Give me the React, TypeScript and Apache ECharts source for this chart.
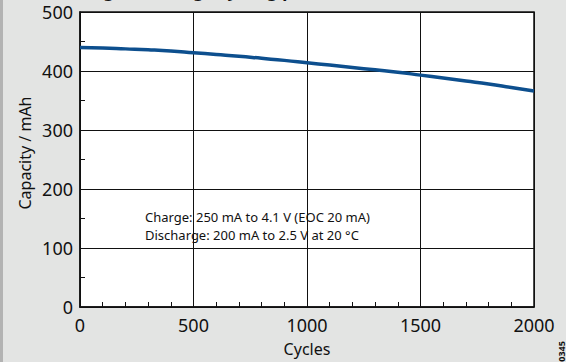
import React, { useEffect, useRef } from "react";
import * as echarts from "echarts";

const cycles = [0, 100, 200, 300, 400, 500, 600, 700, 800, 900, 1000, 1100, 1200, 1300, 1400, 1500, 1600, 1700, 1800, 1900, 2000];
const capacity = [440, 439, 437.5, 436, 434, 431, 428, 425, 421.5, 418, 414, 410, 406, 402, 398, 393, 388, 383, 378, 372, 366];
const xTicks = [0, 500, 1000, 1500, 2000];
const yTicks = [0, 100, 200, 300, 400, 500];
const annotationLines = ["Charge: 250 mA to 4.1 V (EOC 20 mA)", "Discharge: 200 mA to 2.5 V at 20 °C"];
const titleText = "Charge/discharge cycling performance";
const yName = "Capacity / mAh";
const xName = "Cycles";

const FONT = "'Noto Sans', 'Open Sans', sans-serif";

export default function App() {
  const ref = useRef<HTMLDivElement>(null);
  useEffect(() => {
    document.body.style.margin = "0";
    const chart = echarts.init(ref.current!, null, { renderer: "svg" });
    chart.setOption({
      animation: false,
      backgroundColor: "#e3e4e3",
      textStyle: { fontFamily: FONT },
      grid: {
        left: 80,
        right: 32,
        top: 12,
        bottom: 49,
        show: true,
        backgroundColor: "#ffffff",
        borderColor: "#111",
        borderWidth: 1.5,
      },
      xAxis: {
        type: "value",
        min: xTicks[0],
        max: xTicks[xTicks.length - 1],
        interval: 500,
        name: xName,
        nameLocation: "middle",
        nameGap: 34,
        nameTextStyle: { fontSize: 16, color: "#111", fontFamily: FONT },
        axisLine: { show: true, lineStyle: { color: "#111", width: 1.5 } },
        axisTick: { show: true, inside: true, length: 5, lineStyle: { color: "#111" } },
        minorTick: { show: true, splitNumber: 5, length: 5, lineStyle: { color: "#111", width: 1 } },
        splitLine: { show: true, lineStyle: { color: "#111", width: 1 } },
        axisLabel: { fontSize: 18, color: "#111", margin: 9, fontFamily: FONT, formatter: (v: number) => String(v) },
      },
      yAxis: {
        type: "value",
        min: yTicks[0],
        max: yTicks[yTicks.length - 1],
        interval: 100,
        axisLine: { show: true, lineStyle: { color: "#111", width: 1.5 } },
        axisTick: { show: true, inside: true, length: 5, lineStyle: { color: "#111" } },
        minorTick: { show: true, splitNumber: 2, length: 5, lineStyle: { color: "#111", width: 1 } },
        splitLine: { show: true, lineStyle: { color: "#111", width: 1 } },
        axisLabel: { fontSize: 18, color: "#111", margin: 7, padding: [8, 0, 0, 0], fontFamily: FONT, formatter: (v: number) => String(v) },
      },
      series: [
        {
          type: "line",
          data: cycles.map((c, i) => [c, capacity[i]]),
          smooth: true,
          showSymbol: false,
          lineStyle: { color: "#0d4f8e", width: 3.5 },
        },
      ],
      graphic: [
        { type: "rect", left: 0, top: 0, shape: { width: 3, height: 362 }, style: { fill: "#b3b3b3" }, silent: true },
        {
          type: "text",
          x: 64,
          y: -1,
          style: { text: titleText, font: `bold 17px ${FONT}`, fill: "#111", verticalAlign: "bottom", align: "left" },
          silent: true,
        },
        {
          type: "text",
          x: 25,
          y: 153,
          rotation: Math.PI / 2,
          style: { text: yName, font: `16px ${FONT}`, fill: "#111", align: "center", verticalAlign: "middle" },
          silent: true,
        },
        {
          type: "text",
          x: 145,
          y: 217,
          style: { text: annotationLines[0], font: `13px ${FONT}`, fill: "#111", align: "left", verticalAlign: "middle" },
          silent: true,
        },
        {
          type: "text",
          x: 145,
          y: 235,
          style: { text: annotationLines[1], font: `13px ${FONT}`, fill: "#111", align: "left", verticalAlign: "middle" },
          silent: true,
        },
        {
          type: "text",
          x: 561,
          y: 372,
          rotation: Math.PI / 2,
          style: { text: "130345", font: `bold 9px ${FONT}`, fill: "#111", align: "left", verticalAlign: "middle" },
          silent: true,
        },
      ],
    });
    return () => chart.dispose();
  }, []);
  return <div ref={ref} style={{ width: 566, height: 362 }} />;
}
